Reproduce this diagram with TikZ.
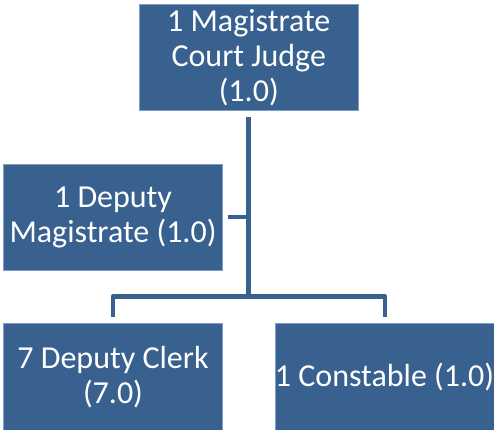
\documentclass[tikz,border=0pt]{standalone}
\usepackage{fontspec}
\setmainfont{Carlito}
\definecolor{boxblue}{HTML}{38618F}
\definecolor{edgeblue}{HTML}{7F9CC4}
\begin{document}
\begin{tikzpicture}[x=1pt,y=-1pt,
  orgbox/.style={fill=boxblue,draw=edgeblue,line width=0.5pt,text=white,
    align=center,inner sep=0pt,font=\fontsize{32}{35}\selectfont},
  link/.style={draw=boxblue,line width=4.5pt,line join=round}]
  \useasboundingbox (0,0) rectangle (494,429);
  % positions
  \node[orgbox,minimum width=218.5pt,minimum height=106pt] (judge) at (248.75,57.5)
    {1 Magistrate\\Court Judge\\(1.0)};
  \node[orgbox,minimum width=219pt,minimum height=106pt] (deputy) at (113,217)
    {1 Deputy\\Magistrate (1.0)};
  \node[orgbox,minimum width=219pt,minimum height=108pt] (clerk) at (113,377)
    {7 Deputy Clerk\\(7.0)};
  \node[orgbox,minimum width=219pt,minimum height=108pt] (constable) at (384.5,377)
    {1 Constable (1.0)};
  % bus coordinates
  \coordinate (top) at (248.5,117);
  \coordinate (bus) at (248.5,296.5);
  \coordinate (busL) at (113,296.5);
  \coordinate (busR) at (385,296.5);
  \coordinate (side) at (228,217);
  \coordinate (sideJ) at (248.5,217);
  \coordinate (dropL) at (113,317);
  \coordinate (dropR) at (385,317);
  % connectors
  \draw[link] (top) -- (bus);
  \draw[link] (side) -- (sideJ);
  \draw[link] (dropL) -- (busL) -- (busR) -- (dropR);
\end{tikzpicture}
\end{document}
